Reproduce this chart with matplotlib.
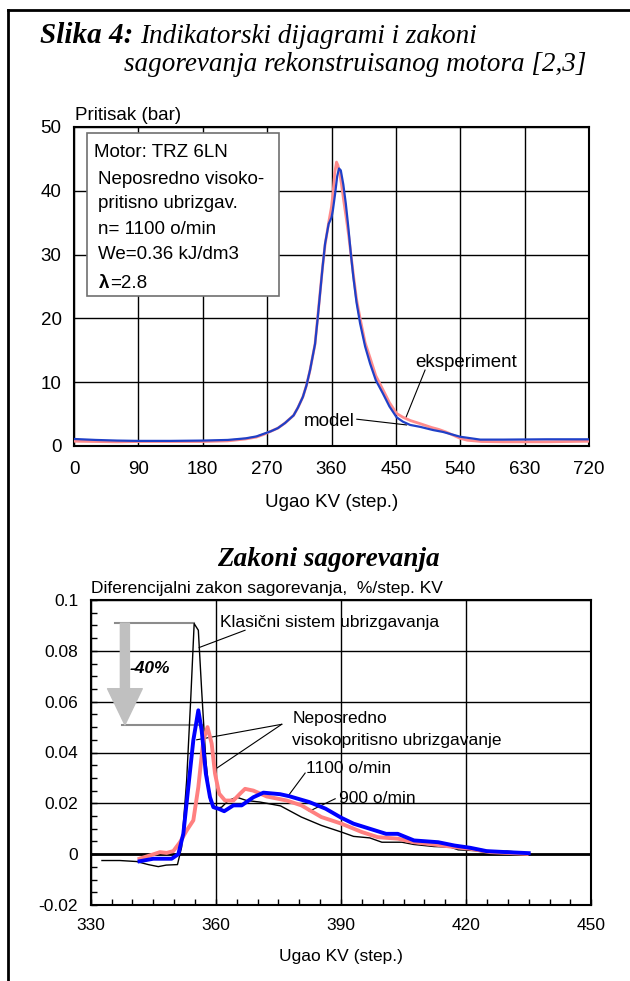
import matplotlib
matplotlib.use('Agg')
import matplotlib.pyplot as plt
from matplotlib.lines import Line2D
from matplotlib.ticker import MultipleLocator, FixedLocator

plt.rcParams['font.family'] = ['Liberation Sans', 'DejaVu Sans']

W, H = 630, 981

# --- top chart: pressure (bar) vs crank angle ---
ugao_model = [0, 30, 60, 90, 135, 180, 215, 240, 255, 265, 275, 285, 295, 307, 313, 320, 325, 330,
              337, 340.5, 344, 347.5, 351, 356, 358, 360, 362, 365, 368, 370.5, 373, 376.5, 380,
              383.5, 387, 390.5, 395, 400, 407, 414, 422, 432, 441, 451, 460, 470, 484, 502, 516,
              540, 568, 600, 660, 720]
p_model = [1.1, 0.95, 0.85, 0.8, 0.8, 0.85, 0.95, 1.2, 1.5, 1.9, 2.3, 2.8, 3.6, 4.8, 6.0, 7.7, 9.5,
           11.9, 16, 19.8, 23.9, 28, 31.7, 34.8, 35.3, 35.8, 37, 39.5, 42.3, 43.5, 43.2, 41, 38,
           34.3, 30.2, 26.5, 22.5, 19.2, 15.6, 12.9, 10.3, 8.2, 6.2, 4.5, 3.8, 3.3, 3.0, 2.5, 2.2,
           1.45, 1.0, 1.0, 1.05, 1.05]

ugao_eksp = [0, 30, 60, 90, 135, 180, 215, 240, 255, 265, 275, 285, 295, 307, 313, 320, 325, 330,
             337, 340.5, 344, 347.5, 351, 356, 360, 362, 364.5, 367, 369, 371, 374, 377, 380.5, 384,
             387.5, 391, 395, 400, 407, 414, 422, 432, 441, 451, 460, 470, 484, 500, 510, 520, 530,
             540, 550, 570, 600, 660, 720]
p_eksp = [0.75, 0.7, 0.65, 0.7, 0.7, 0.7, 0.8, 1.1, 1.4, 1.8, 2.3, 2.8, 3.6, 4.8, 6.0, 7.7, 9.5,
          11.9, 16, 20, 24, 28, 31.5, 35, 37.5, 39.5, 42.8, 44.5, 44, 43, 41, 38.5, 35.8, 33,
          29.7, 26.5, 23, 20, 16.2, 13.8, 11, 8.8, 6.8, 5.1, 4.5, 4.0, 3.5, 2.9, 2.6, 2.2, 1.7,
          1.2, 0.9, 0.7, 0.65, 0.65, 0.75]

# --- bottom chart: differential combustion law ---
ugao_klas = [332.7, 337, 341, 343.8, 346.2, 348.1, 350.8, 351.8, 353.0, 354.0, 354.8, 355.8, 356.6,
             357.6, 358.6, 359.8, 361.4, 363.0, 365.0, 367.4, 370.6, 375.5, 380.5, 385.3, 390.1,
             393.0, 396.9, 399.8, 404.6, 407.5, 412.3, 416.2, 418.1, 422.0, 425.8, 429.7, 432.6, 435.0]
dq_klas = [-0.0025, -0.0025, -0.0029, -0.0041, -0.0049, -0.0043, -0.0041, 0.0028, 0.029, 0.0618,
           0.0907, 0.0881, 0.0644, 0.0369, 0.0211, 0.0179, 0.0185, 0.0211, 0.0224, 0.0211, 0.0205,
           0.019, 0.0146, 0.0113, 0.0087, 0.0070, 0.0064, 0.0047, 0.0047, 0.0038, 0.0030, 0.0028,
           0.0017, 0.0014, 0.0004, 0.0012, 0.0008, 0.0001]

ugao_1100 = [341.7, 345.0, 349.4, 351.0, 352.2, 353.4, 354.6, 355.8, 356.6, 357.6, 358.6, 359.4,
             360.6, 362.0, 364.2, 366.2, 369.0, 371.4, 375.4, 377.6, 382.4, 386.3, 390.1, 393.0,
             396.9, 400.8, 403.6, 407.5, 413.3, 417.2, 421.0, 424.9, 429.7, 435.0]
dq_1100 = [-0.0028, -0.0018, -0.0018, 0.0, 0.008, 0.0264, 0.0448, 0.0566, 0.0487, 0.0317, 0.0224,
           0.0185, 0.0179, 0.0169, 0.0192, 0.0192, 0.0224, 0.0242, 0.0236, 0.0228, 0.0205, 0.0179,
           0.0143, 0.0120, 0.0100, 0.0080, 0.0080, 0.0054, 0.0047, 0.0034, 0.0025, 0.0012, 0.0008,
           0.0004]

ugao_900 = [341.7, 344.2, 346.6, 348.2, 349.8, 351.4, 353.0, 354.6, 355.8, 357.0, 358.0, 359.0,
            359.8, 360.8, 362.2, 364.2, 365.8, 367.0, 369.0, 372.2, 377.0, 380.5, 385.3, 390.1,
            395.0, 398.8, 403.6, 407.5, 412.3, 416.2, 421.0, 425.8, 429.7, 434.5]
dq_900 = [-0.0018, -0.0005, 0.0008, 0.0005, 0.0012, 0.0047, 0.0093, 0.0133, 0.0264, 0.0448, 0.0500,
          0.0435, 0.0317, 0.0238, 0.0211, 0.0211, 0.0238, 0.0257, 0.0250, 0.0227, 0.0211, 0.0192,
          0.0146, 0.0120, 0.0087, 0.0067, 0.0061, 0.0047, 0.0038, 0.0030, 0.0021, 0.0008, 0.0005,
          0.0001]

y_ticks_bottom = [-0.02, 0, 0.02, 0.04, 0.06, 0.08, 0.1]
y_labels_bottom = ['-0.02', '0', '0.02', '0.04', '0.06', '0.08', '0.1']

legend_lines = ['Motor: TRZ 6LN', 'Neposredno visoko-', 'pritisno ubrizgav.',
                'n= 1100 o/min', 'We=0.36 kJ/dm3']


def fpos(x, y):
    # pixel position (from top-left) -> figure fraction
    return x / W, 1 - y / H


fig = plt.figure(figsize=(W / 100, H / 100), dpi=100)

# frame around the figure (left and top visible)
fig.add_artist(Line2D([8 / W, 8 / W], [0, 1 - 10 / H], color='black', lw=2, transform=fig.transFigure))
fig.add_artist(Line2D([8 / W, 1], [1 - 10 / H, 1 - 10 / H], color='black', lw=2, transform=fig.transFigure))

serif = ['Liberation Serif', 'DejaVu Serif']
t1 = fig.text(*fpos(40, 43), 'Slika 4:', family=serif, style='italic', weight='bold', fontsize=21)
fig.canvas.draw()
bb = t1.get_window_extent()
x_ind = bb.x1 + 7
fig.text(x_ind / W, 1 - 43 / H, 'Indikatorski dijagrami i zakoni', family=serif,
         style='italic', fontsize=19.5)
fig.text((x_ind - 16) / W, 1 - 71 / H, 'sagorevanja rekonstruisanog motora [2,3]', family=serif,
         style='italic', fontsize=19.5)

# ---------------- top chart ----------------
ax1 = fig.add_axes([74 / W, 1 - 446 / H, 515 / W, 319 / H])
ax1.plot(ugao_eksp, p_eksp, color='#ff8c8c', lw=2.0, zorder=3)
ax1.plot(ugao_model, p_model, color='#1f40c8', lw=1.6, zorder=4)
ax1.set_xlim(0, 720)
ax1.set_ylim(0, 50)
ax1.set_xticks(range(0, 721, 90))
ax1.set_yticks(range(0, 51, 10))
ax1.grid(True, color='black', lw=1.0)
ax1.set_axisbelow(True)
for s in ax1.spines.values():
    s.set_linewidth(1.5)
ax1.tick_params(axis='y', length=0, labelsize=13.5, pad=9)
ax1.tick_params(axis='x', length=0, labelsize=13.5, pad=11)
ax1.set_xlabel('Ugao KV (step.)', fontsize=13.5, labelpad=11)
fig.text(*fpos(75, 115), 'Pritisak (bar)', fontsize=13.5, va='center')

# info box
box = plt.Rectangle(fpos(86.7, 295.7), (279 - 86.7) / W, (295.7 - 132.7) / H, transform=fig.transFigure,
                    facecolor='white', edgecolor='#707070', lw=1.2, zorder=5)
fig.add_artist(box)
ys = [152.7, 180, 203, 229, 255]
xs = [93.5, 98.5, 98.5, 98.5, 98.5]
for txt, x, y in zip(legend_lines, xs, ys):
    fig.text(*fpos(x, y), txt, fontsize=13.5, va='center', zorder=6)
fig.text(*fpos(99, 283), 'λ', fontsize=13.5, weight='bold', va='center', zorder=6)
fig.text(*fpos(110.5, 283), '=2.8', fontsize=13.5, va='center', zorder=6)

ax1.plot([490.8, 463.8], [11.9, 4.4], color='black', lw=0.8)
ax1.text(476.6, 13.1, 'eksperiment', fontsize=13.5, va='center')
ax1.plot([395.4, 465], [4.2, 3.3], color='black', lw=0.8)
ax1.text(392.7, 3.8, 'model', fontsize=13.5, ha='right', va='center')

# ---------------- bottom chart ----------------
fig.text(*fpos(328, 560), 'Zakoni sagorevanja', family=serif, style='italic', weight='bold',
         fontsize=19.5, ha='center', va='center')
fig.text(*fpos(90.7, 589), 'Diferencijalni zakon sagorevanja,  %/step. KV', fontsize=12.5, va='center')

ax2 = fig.add_axes([90.7 / W, 1 - 905 / H, 500.6 / W, 305 / H])
ax2.plot(ugao_klas, dq_klas, color='black', lw=1.0, zorder=3)
ax2.plot(ugao_900, dq_900, color='#ff8080', lw=2.8, zorder=4)
ax2.plot(ugao_1100, dq_1100, color='#0000ff', lw=2.8, zorder=5)
ax2.set_xlim(330, 450)
ax2.set_ylim(-0.02, 0.1)
ax2.set_xticks(range(330, 451, 30))
ax2.yaxis.set_major_locator(FixedLocator(y_ticks_bottom))
ax2.set_yticklabels(y_labels_bottom)
ax2.xaxis.set_minor_locator(MultipleLocator(5))
ax2.yaxis.set_minor_locator(MultipleLocator(0.005))
ax2.grid(True, which='major', color='black', lw=1.0)
ax2.axhline(0, color='black', lw=2.0, zorder=2)
for s in ax2.spines.values():
    s.set_linewidth(1.5)
ax2.tick_params(which='both', direction='in', length=4, width=1, labelsize=12.5, pad=9)
ax2.set_xlabel('Ugao KV (step.)', fontsize=12.5, labelpad=12)

# -40% reduction arrow
ax2.plot([335.9, 354.8], [0.0909, 0.0909], color='#8c8c8c', lw=1.5, zorder=2)
ax2.plot([337.4, 357.0], [0.0509, 0.0509], color='#8c8c8c', lw=1.5, zorder=2)
ax2.annotate('', xy=(338.2, 0.0509), xytext=(338.2, 0.0909),
             arrowprops=dict(arrowstyle='simple,head_width=2.5,head_length=2.6,tail_width=0.65',
                             mutation_scale=10, color='#c0c0c0', shrinkA=0, shrinkB=0), zorder=3)
ax2.text(344.2, 0.073, '-40%', fontsize=12.5, weight='bold', style='italic', ha='center', va='center')

ax2.text(361.0, 0.0913, 'Klasični sistem ubrizgavanja', fontsize=12.5, va='center')
ax2.plot([367.0, 356.0], [0.0881, 0.0813], color='black', lw=0.8)
ax2.text(378.3, 0.0533, 'Neposredno', fontsize=12.5, va='center')
ax2.text(378.3, 0.0448, 'visokopritisno ubrizgavanje', fontsize=12.5, va='center')
ax2.plot([375.8, 355.4], [0.0511, 0.045], color='black', lw=0.8)
ax2.plot([375.8, 360.0], [0.0511, 0.0336], color='black', lw=0.8)
ax2.text(381.6, 0.0336, '1100 o/min', fontsize=12.5, va='center')
ax2.plot([381.4, 377.6], [0.0319, 0.0235], color='black', lw=0.8)
ax2.text(389.6, 0.0218, '900 o/min', fontsize=12.5, va='center')
ax2.plot([388.6, 382.4], [0.0218, 0.0169], color='black', lw=0.8)

fig.savefig('out.png', dpi=100)
